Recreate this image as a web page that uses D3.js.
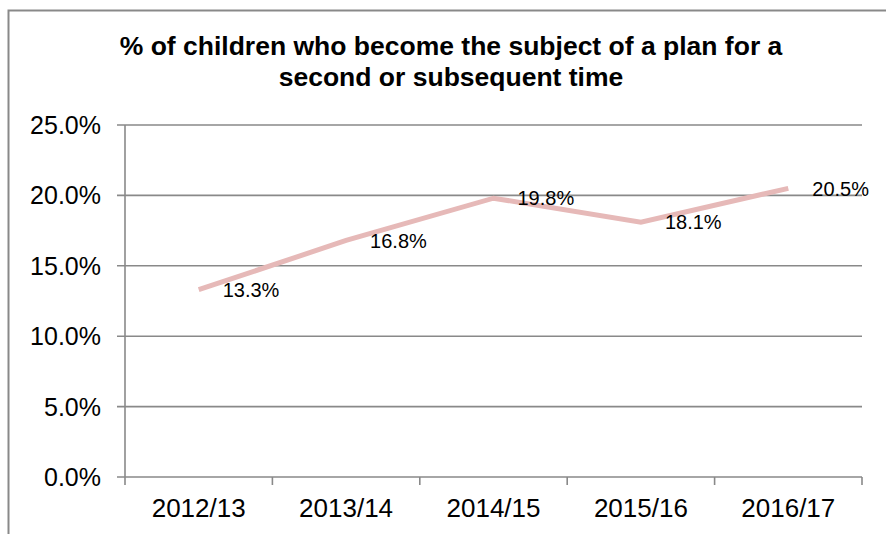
<!DOCTYPE html>
<html>
<head>
<meta charset="utf-8">
<script src="https://cdn.jsdelivr.net/npm/d3@7"></script>
<style>
  html, body { margin: 0; padding: 0; background: #fff; }
  svg { display: block; font-family: "Liberation Sans", Arial, sans-serif; }
</style>
</head>
<body>
<svg id="chart" width="886" height="534"></svg>
<script>
// Repeat child protection plans, by year
const categories = ["2012/13", "2013/14", "2014/15", "2015/16", "2016/17"];
const values = [0.133, 0.168, 0.198, 0.181, 0.205];
const yTicks = [0, 0.05, 0.10, 0.15, 0.20, 0.25];
const titleLines = [
  "% of children who become the subject of a plan for a",
  "second or subsequent time"
];

const svg = d3.select("#chart");
const plot = { left: 125, right: 862, top: 125, bottom: 477 };
const gridColor = "#898989";

// Chart frame
svg.append("rect")
  .attr("x", 8.5).attr("y", 10.5)
  .attr("width", 1000).attr("height", 1000)
  .attr("fill", "none")
  .attr("stroke", gridColor)
  .attr("stroke-width", 2);

// Title
svg.append("g").selectAll("text")
  .data(titleLines)
  .join("text")
  .attr("x", 451)
  .attr("y", (d, i) => 55 + i * 31)
  .attr("text-anchor", "middle")
  .attr("font-weight", "bold")
  .attr("font-size", 26.5)
  .attr("fill", "#000")
  .text(d => d);

const x = d3.scalePoint().domain(categories).range([plot.left, plot.right]).padding(0.5);
const xBand = d3.scaleBand().domain(categories).range([plot.left, plot.right]);
const y = d3.scaleLinear().domain([0, 0.25]).range([plot.bottom, plot.top]);
const pct = d3.format(".1%");

// Horizontal gridlines with outward ticks
svg.append("g").selectAll("line")
  .data(yTicks)
  .join("line")
  .attr("x1", plot.left - 8).attr("x2", plot.right)
  .attr("y1", d => y(d)).attr("y2", d => y(d))
  .attr("stroke", gridColor).attr("stroke-width", 1.6);

// Y tick labels
svg.append("g").selectAll("text")
  .data(yTicks)
  .join("text")
  .attr("x", 101)
  .attr("y", d => y(d))
  .attr("dy", "0.36em")
  .attr("text-anchor", "end")
  .attr("font-size", 25)
  .attr("fill", "#000")
  .text(d => pct(d));

// Vertical axis line
svg.append("line")
  .attr("x1", plot.left).attr("x2", plot.left)
  .attr("y1", plot.top).attr("y2", plot.bottom + 8)
  .attr("stroke", gridColor).attr("stroke-width", 1.6);

// Category boundary ticks on the x axis
const boundaries = categories.map(c => xBand(c)).concat([plot.right]);
svg.append("g").selectAll("line")
  .data(boundaries.slice(1))
  .join("line")
  .attr("x1", d => d).attr("x2", d => d)
  .attr("y1", plot.bottom).attr("y2", plot.bottom + 8)
  .attr("stroke", gridColor).attr("stroke-width", 1.6);

// X tick labels
svg.append("g").selectAll("text")
  .data(categories)
  .join("text")
  .attr("x", d => x(d))
  .attr("y", 517)
  .attr("text-anchor", "middle")
  .attr("font-size", 26)
  .attr("fill", "#000")
  .text(d => d);

// Series line
const line = d3.line()
  .x((d, i) => x(categories[i]))
  .y(d => y(d));

svg.append("path")
  .datum(values)
  .attr("d", line)
  .attr("fill", "none")
  .attr("stroke", "#e6b9b8")
  .attr("stroke-width", 5)
  .attr("stroke-linejoin", "miter");

// Data labels to the right of each point
svg.append("g").selectAll("text")
  .data(values)
  .join("text")
  .attr("x", (d, i) => x(categories[i]) + 24)
  .attr("y", d => y(d))
  .attr("dy", "0.36em")
  .attr("font-size", 20)
  .attr("fill", "#000")
  .text(d => pct(d));
</script>
</body>
</html>
